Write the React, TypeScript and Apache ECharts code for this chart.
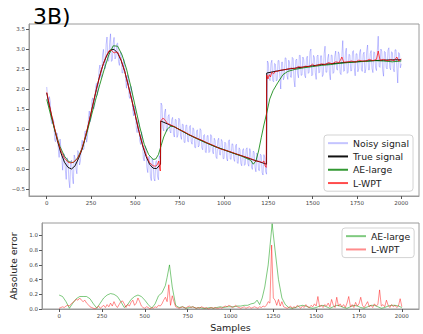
import React, { useEffect, useRef } from 'react';
import * as echarts from 'echarts';

// ---------- data ----------
const xTicks = [0, 250, 500, 750, 1000, 1250, 1500, 1750, 2000];
const yTopTicks = [-0.5, 0, 0.5, 1, 1.5, 2, 2.5, 3, 3.5];
const yBottomTicks = [0, 0.2, 0.4, 0.6, 0.8, 1.0];

// Noisy signal, one value every 5 samples (0..2000)
const NOISY_STEP = 5;
const noisyValues = [
  2.05, 1.75, 1.58, 1.81, 1.68, 1.2, 1.13, 1.26, 1.18, 0.73, 0.68, 0.91, 0.89, 0.52, 0.29, 0.75, 0.52, 0.28, -0.03, 0.38,
  0.37, -0.02, -0.26, 0.28, 0.19, -0.28, -0.47, 0.18, 0.22, -0.19, -0.37, 0.35, 0.26, 0.02, -0.12, 0.46, 0.42, 0.1, 0.2, 0.56,
  0.72, 0.48, 0.51, 0.94, 0.95, 0.67, 0.81, 1.25, 1.45, 1.18, 1.28, 1.72, 1.78, 1.5, 1.58, 2.0, 2.14, 1.84, 2.0, 2.47,
  2.6, 2.28, 2.3, 2.85, 2.99, 2.58, 2.51, 3.11, 3.3, 2.69, 2.71, 3.16, 3.38, 2.69, 2.72, 3.15, 3.29, 2.75, 2.8, 3.13,
  3.15, 2.68, 2.59, 2.91, 2.91, 2.4, 2.41, 2.74, 2.59, 2.24, 2.02, 2.36, 2.27, 1.8, 1.76, 2.07, 1.94, 1.48, 1.33, 1.58,
  1.48, 1.03, 0.91, 1.23, 1.12, 0.7, 0.61, 0.93, 0.72, 0.27, 0.2, 0.58, 0.5, 0.04, -0.09, 0.31, 0.32, -0.19, -0.29, 0.26,
  0.17, -0.24, -0.3, 0.18, 0.21, -0.19, -0.27, 0.33, 0.26, 1.65, 1.59, 1.03, 0.95, 1.41, 1.5, 0.94, 0.95, 1.32, 1.36, 0.95,
  0.9, 1.23, 1.29, 0.88, 0.8, 1.24, 1.23, 0.79, 0.85, 1.27, 1.23, 0.82, 0.74, 1.12, 1.11, 0.67, 0.66, 1.09, 1.1, 0.69,
  0.68, 1.05, 1.09, 0.68, 0.62, 1.03, 0.98, 0.54, 0.53, 0.95, 0.98, 0.55, 0.59, 1.01, 0.97, 0.53, 0.48, 0.84, 0.86, 0.42,
  0.41, 0.83, 0.84, 0.41, 0.44, 0.86, 0.82, 0.44, 0.38, 0.77, 0.71, 0.3, 0.26, 0.71, 0.77, 0.36, 0.35, 0.74, 0.69, 0.26,
  0.26, 0.67, 0.64, 0.26, 0.2, 0.69, 0.73, 0.25, 0.24, 0.63, 0.62, 0.25, 0.19, 0.58, 0.62, 0.15, 0.14, 0.53, 0.49, 0.14,
  0.08, 0.47, 0.51, 0.09, 0.12, 0.49, 0.53, 0.13, 0.07, 0.51, 0.43, 0.05, -0.01, 0.45, 0.42, 0.04, -0.07, 0.4, 0.34, -0.03,
  -0.04, 0.37, 0.34, -0.09, -0.15, 0.36, 0.28, -0.07, -0.13, 2.7, 2.65, 2.26, 2.21, 2.64, 2.72, 2.21, 2.18, 2.64, 2.62, 2.2,
  2.23, 2.71, 2.71, 2.31, 2.0, 2.67, 2.67, 2.23, 2.3, 2.78, 2.77, 2.34, 2.24, 2.72, 2.65, 2.3, 2.29, 2.79, 2.76, 2.22,
  2.05, 2.72, 2.75, 2.38, 2.28, 2.84, 2.84, 2.34, 2.35, 2.8, 2.73, 2.34, 2.28, 2.76, 2.82, 2.39, 2.42, 2.93, 3.0, 2.33,
  2.36, 2.84, 2.79, 2.41, 2.24, 2.82, 2.85, 2.4, 2.42, 2.83, 2.83, 2.31, 2.36, 2.89, 3.07, 2.42, 2.42, 2.77, 2.87, 2.38,
  2.23, 2.85, 2.84, 2.39, 2.42, 2.82, 2.95, 2.5, 2.47, 2.93, 2.87, 2.4, 2.36, 2.86, 3.21, 2.44, 2.46, 2.91, 3.02, 2.39,
  2.42, 2.87, 2.85, 2.45, 2.46, 2.93, 2.96, 2.53, 2.33, 2.88, 2.88, 2.43, 2.51, 2.91, 2.99, 2.49, 2.44, 2.87, 2.92, 2.4,
  2.5, 2.95, 3.1, 2.48, 2.48, 2.89, 2.96, 2.51, 2.41, 2.93, 2.91, 2.53, 2.46, 2.96, 3.32, 2.57, 2.54, 3.0, 2.94, 2.47,
  2.32, 2.94, 2.92, 2.54, 2.5, 2.97, 3.03, 2.53, 2.48, 2.93, 2.91, 2.51, 2.43, 2.98, 2.98, 2.55, 2.15, 2.91, 2.88, 2.53,
  2.63,
];

const trueSamples = [
  0, 20, 40, 60, 80, 100, 120, 140, 160, 180,
  200, 220, 240, 260, 280, 300, 320, 340, 360, 380,
  400, 420, 440, 460, 480, 500, 520, 540, 560, 580,
  600, 620, 642, 643, 680, 720, 760, 800, 850, 900,
  950, 1000, 1050, 1100, 1150, 1200, 1240, 1241, 1300, 1350,
  1400, 1450, 1500, 1550, 1600, 1650, 1700, 1750, 1800, 1850,
  1900, 1950, 2000,
];
const trueValues = [
  1.9, 1.48, 1.08, 0.71, 0.4, 0.17, 0.04, 0.0, 0.08, 0.27,
  0.5, 0.83, 1.2, 1.6, 1.99, 2.35, 2.64, 2.85, 2.98, 2.99,
  2.9, 2.71, 2.44, 2.09, 1.72, 1.33, 0.94, 0.6, 0.32, 0.12,
  0.02, 0.01, 0.12, 1.2, 1.13, 1.05, 0.96, 0.86, 0.76, 0.66,
  0.56, 0.48, 0.4, 0.33, 0.25, 0.18, 0.12, 2.4, 2.45, 2.49,
  2.52, 2.55, 2.58, 2.61, 2.63, 2.65, 2.67, 2.68, 2.7, 2.71,
  2.72, 2.73, 2.73,
];

const aeSamples = [
  0, 25, 50, 75, 100, 125, 150, 175, 200, 225,
  250, 275, 300, 325, 350, 375, 400, 425, 450, 475,
  500, 525, 550, 575, 600, 615, 630, 645, 660, 680,
  700, 720, 750, 800, 850, 900, 950, 1000, 1050, 1100,
  1150, 1165, 1180, 1195, 1210, 1225, 1240, 1258, 1277, 1305,
  1333, 1360, 1400, 1450, 1500, 1550, 1600, 1650, 1700, 1750,
  1800, 1850, 1900, 1950, 2000,
];
const aeValues = [
  1.74, 1.3, 0.9, 0.56, 0.32, 0.18, 0.16, 0.28, 0.52, 0.88,
  1.3, 1.72, 2.12, 2.5, 2.85, 3.08, 3.07, 2.85, 2.5, 2.05,
  1.55, 1.05, 0.62, 0.36, 0.24, 0.25, 0.36, 0.58, 0.8, 1.0,
  1.07, 1.06, 0.98, 0.86, 0.75, 0.65, 0.56, 0.48, 0.4, 0.32,
  0.22, 0.12, 0.2, 0.45, 0.78, 1.1, 1.38, 1.75, 1.96, 2.17,
  2.36, 2.44, 2.49, 2.53, 2.56, 2.59, 2.61, 2.64, 2.66, 2.68,
  2.69, 2.71, 2.7, 2.68, 2.7,
];

const wptSamples = [
  0, 20, 40, 60, 80, 100, 120, 135, 150, 170,
  190, 210, 230, 250, 270, 290, 310, 330, 350, 365,
  380, 390, 400, 420, 440, 460, 480, 500, 520, 540,
  560, 580, 600, 615, 625, 632, 638, 641, 643, 655,
  665, 680, 700, 720, 750, 780, 800, 830, 850, 880,
  900, 930, 950, 980, 1000, 1030, 1050, 1080, 1100, 1130,
  1150, 1180, 1200, 1215, 1225, 1232, 1238, 1241, 1248, 1255,
  1262, 1270, 1280, 1290, 1300, 1320, 1340, 1360, 1380, 1400,
  1420, 1440, 1460, 1480, 1500, 1510, 1530, 1550, 1570, 1590,
  1610, 1630, 1650, 1665, 1675, 1700, 1720, 1740, 1760, 1780,
  1800, 1820, 1840, 1860, 1870, 1880, 1900, 1920, 1940, 1960,
  1975, 1985, 2000,
];
const wptValues = [
  1.92, 1.5, 1.1, 0.74, 0.45, 0.27, 0.17, 0.15, 0.17, 0.24,
  0.4, 0.68, 1.02, 1.4, 1.8, 2.17, 2.5, 2.76, 2.95, 2.97,
  2.9, 2.92, 2.92, 2.72, 2.44, 2.08, 1.72, 1.34, 0.95, 0.62,
  0.36, 0.16, 0.08, 0.07, 0.12, 0.2, 0.0, -0.05, 1.2, 1.27,
  1.24, 1.14, 1.1, 1.06, 0.98, 0.92, 0.87, 0.8, 0.76, 0.71,
  0.66, 0.61, 0.57, 0.5, 0.48, 0.44, 0.41, 0.36, 0.33, 0.29,
  0.26, 0.2, 0.19, 0.16, 0.2, 0.08, 0.04, 2.35, 2.25, 2.36,
  2.3, 2.42, 2.38, 2.45, 2.44, 2.47, 2.48, 2.5, 2.52, 2.51,
  2.56, 2.54, 2.57, 2.56, 2.62, 2.58, 2.6, 2.63, 2.61, 2.66,
  2.63, 2.68, 2.66, 2.8, 2.67, 2.68, 2.7, 2.67, 2.72, 2.7,
  2.7, 2.74, 2.71, 2.74, 2.95, 2.72, 2.74, 2.71, 2.73, 2.71,
  2.8, 2.7, 2.75,
];

const aeErrSamples = [
  0, 20, 40, 60, 80, 100, 120, 140, 160, 180,
  200, 220, 240, 260, 280, 300, 320, 340, 360, 380,
  400, 420, 440, 460, 480, 500, 520, 540, 560, 580,
  600, 620, 630, 644, 660, 680, 700, 720, 740, 760,
  780, 800, 820, 840, 860, 880, 900, 920, 940, 960,
  980, 1000, 1020, 1040, 1060, 1080, 1100, 1120, 1140, 1155,
  1170, 1185, 1200, 1220, 1243, 1260, 1280, 1300, 1320, 1340,
  1360, 1380, 1400, 1420, 1440, 1460, 1480, 1500, 1520, 1540,
  1560, 1580, 1600, 1620, 1640, 1660, 1680, 1700, 1720, 1740,
  1760, 1780, 1800, 1820, 1840, 1860, 1880, 1900, 1920, 1940,
  1960, 1980, 2000,
];
const aeErrValues = [
  0.19, 0.17, 0.1, 0.01, 0.08, 0.14, 0.17, 0.17, 0.17, 0.14,
  0.07, 0.01, 0.08, 0.15, 0.19, 0.21, 0.2, 0.17, 0.1, 0.02,
  0.06, 0.13, 0.17, 0.19, 0.17, 0.12, 0.06, 0.01, 0.07, 0.18,
  0.22, 0.32, 0.43, 0.6, 0.3, 0.05, 0.02, 0.03, 0.01, 0.02,
  0.03, 0.01, 0.02, 0.01, 0.01, 0.02, 0.01, 0.02, 0.03, 0.02,
  0.03, 0.03, 0.03, 0.04, 0.04, 0.05, 0.05, 0.07, 0.08, 0.12,
  0.06, 0.15, 0.3, 0.6, 1.16, 0.8, 0.4, 0.15, 0.06, 0.02,
  0.01, 0.02, 0.04, 0.05, 0.04, 0.02, 0.01, 0.02, 0.04, 0.05,
  0.03, 0.01, 0.03, 0.05, 0.04, 0.02, 0.01, 0.03, 0.05, 0.04,
  0.02, 0.01, 0.03, 0.05, 0.05, 0.03, 0.01, 0.02, 0.04, 0.05,
  0.05, 0.04, 0.02,
];

// L-WPT absolute error, one value every 10 samples (0..2000)
const WPT_ERR_STEP = 10;
const wptErrValues = [
  0.01, 0.02, 0.03, 0.02, 0.04, 0.05, 0.04, 0.07, 0.09, 0.11,
  0.13, 0.12, 0.15, 0.12, 0.1, 0.12, 0.08, 0.06, 0.03, 0.02,
  0.01, 0.0, 0.02, 0.04, 0.01, 0.03, 0.05, 0.02, 0.06, 0.03,
  0.08, 0.04, 0.1, 0.05, 0.02, 0.06, 0.1, 0.11, 0.07, 0.02,
  0.06, 0.04, 0.09, 0.12, 0.05, 0.08, 0.15, 0.1, 0.04, 0.02,
  0.01, 0.03, 0.02, 0.0, 0.02, 0.01, 0.03, 0.02, 0.05, 0.04,
  0.07, 0.12, 0.16, 0.1, 0.33, 0.05, 0.18, 0.1, 0.03, 0.02,
  0.01, 0.02, 0.03, 0.02, 0.01, 0.03, 0.04, 0.02, 0.03, 0.02,
  0.01, 0.02, 0.01, 0.03, 0.02, 0.01, 0.02, 0.0, 0.01, 0.02,
  0.01, 0.02, 0.01, 0.01, 0.02, 0.01, 0.03, 0.04, 0.03, 0.05,
  0.04, 0.02, 0.03, 0.05, 0.03, 0.02, 0.01, 0.02, 0.03, 0.01,
  0.02, 0.03, 0.01, 0.02, 0.03, 0.02, 0.01, 0.03, 0.02, 0.04,
  0.03, 0.05, 0.1, 0.08, 0.87, 0.15, 0.12, 0.05, 0.13, 0.04,
  0.1, 0.03, 0.02, 0.01, 0.02, 0.04, 0.01, 0.03, 0.02, 0.05,
  0.03, 0.01, 0.04, 0.02, 0.06, 0.03, 0.02, 0.05, 0.03, 0.07,
  0.04, 0.17, 0.03, 0.05, 0.02, 0.06, 0.04, 0.08, 0.03, 0.13,
  0.05, 0.02, 0.16, 0.04, 0.07, 0.03, 0.06, 0.02, 0.08, 0.17,
  0.03, 0.06, 0.02, 0.09, 0.04, 0.07, 0.16, 0.05, 0.02, 0.06,
  0.1, 0.03, 0.05, 0.02, 0.07, 0.04, 0.06, 0.26, 0.04, 0.06,
  0.03, 0.12, 0.05, 0.02, 0.06, 0.03, 0.05, 0.02, 0.04, 0.14,
  0.03,
];

export default function App() {
  const ref = useRef<HTMLDivElement>(null);

  useEffect(() => {
    const chart = echarts.init(ref.current as HTMLDivElement, null, { renderer: 'svg' });
    const font = 'DejaVu Sans';
    const frame = '#9a9a9a';
    const tickColor = '#555';
    const labelColor = '#444';
    const fmt = (v: number) => v.toFixed(1).replace('-', '\u2212');
    const pairs = (xs: number[], ys: number[]) => xs.map((x, i) => [x, ys[i]]);
    const stepPairs = (ys: number[], step: number) => ys.map((y, i) => [i * step, y]);

    const xAxisBase = (gridIndex: number) => ({
      type: 'value',
      gridIndex,
      min: -100,
      max: 2100,
      axisLine: { show: true, onZero: false, lineStyle: { color: frame, width: 1 } },
      axisTick: { show: true, length: 3, lineStyle: { color: tickColor }, customValues: xTicks },
      axisLabel: {
        customValues: xTicks,
        formatter: (v: number) => String(v),
        fontSize: 5.5,
        color: labelColor,
        margin: 4,
        fontFamily: font,
      },
      splitLine: { show: false },
    });

    const yAxisBase = (gridIndex: number, min: number, max: number, ticks: number[]) => ({
      type: 'value',
      gridIndex,
      min,
      max,
      axisLine: { show: true, onZero: false, lineStyle: { color: frame, width: 1 } },
      axisTick: { show: true, length: 3, lineStyle: { color: tickColor }, customValues: ticks },
      axisLabel: { customValues: ticks, formatter: fmt, fontSize: 5.5, color: labelColor, margin: 4, fontFamily: font },
      splitLine: { show: false },
    });

    const legendBase = {
      orient: 'vertical',
      icon: 'rect',
      itemWidth: 20,
      itemHeight: 2,
      itemGap: 3,
      padding: [3, 4, 3, 4],
      backgroundColor: 'rgba(255,255,255,0.8)',
      borderColor: '#d3d3d3',
      borderWidth: 1,
      borderRadius: 3,
      selectedMode: false,
      textStyle: { fontSize: 9.3, color: '#222', fontFamily: font, lineHeight: 10.3 },
    };

    const line = (name: string, data: number[][], color: string, width: number, xi: number, yi: number) => ({
      type: 'line',
      name,
      xAxisIndex: xi,
      yAxisIndex: yi,
      data,
      symbol: 'none',
      silent: true,
      emphasis: { disabled: true },
      lineStyle: { color, width },
      itemStyle: { color },
    });

    const aeTop = 'rgba(0,128,0,0.8)';
    const wptTop = 'rgba(255,0,0,0.7)';
    const aeBottom = 'rgba(0,150,0,0.5)';
    const wptBottom = 'rgba(255,0,0,0.45)';

    chart.setOption({
      animation: false,
      textStyle: { fontFamily: font },
      title: {
        text: '3B)',
        left: 28,
        top: 0,
        textStyle: { fontSize: 22, fontWeight: 'normal', color: '#000', fontFamily: font },
      },
      grid: [
        { left: 29, top: 24, width: 390, height: 172, show: true, borderColor: frame, borderWidth: 1 },
        { left: 29, top: 223, width: 390, height: 86, show: true, borderColor: frame, borderWidth: 1 },
      ],
      xAxis: [
        xAxisBase(0),
        {
          ...xAxisBase(1),
          name: 'Samples',
          nameLocation: 'middle',
          nameGap: 13,
          nameTextStyle: { fontSize: 9.5, color: '#222', fontFamily: font },
        },
      ],
      yAxis: [
        yAxisBase(0, -0.675, 3.625, yTopTicks),
        {
          ...yAxisBase(1, 0, 1.17, yBottomTicks),
          name: 'Absolute error',
          nameLocation: 'middle',
          nameGap: 24,
          nameTextStyle: { fontSize: 9.5, color: '#222', fontFamily: font },
        },
      ],
      legend: [
        {
          ...legendBase,
          left: 324,
          top: 135,
          data: ['Noisy signal', 'True signal', 'AE-large', 'L-WPT'],
        },
        {
          ...legendBase,
          left: 342,
          top: 228,
          data: [
            { name: 'AE-large', itemStyle: { color: aeBottom } },
            { name: 'L-WPT', itemStyle: { color: wptBottom } },
          ],
        },
      ],
      series: [
        line('Noisy signal', stepPairs(noisyValues, NOISY_STEP), 'rgba(60,60,255,0.3)', 1, 0, 0),
        line('True signal', pairs(trueSamples, trueValues), '#111', 1, 0, 0),
        line('AE-large', pairs(aeSamples, aeValues), aeTop, 1, 0, 0),
        line('L-WPT', pairs(wptSamples, wptValues), wptTop, 1, 0, 0),
        line('AE-large', pairs(aeErrSamples, aeErrValues), aeBottom, 1, 1, 1),
        line('L-WPT', stepPairs(wptErrValues, WPT_ERR_STEP), wptBottom, 1, 1, 1),
      ],
    });

    return () => chart.dispose();
  }, []);

  return (
    <div
      ref={ref}
      style={{ position: 'fixed', left: 0, top: 0, width: 423, height: 334, background: '#fff' }}
    />
  );
}
